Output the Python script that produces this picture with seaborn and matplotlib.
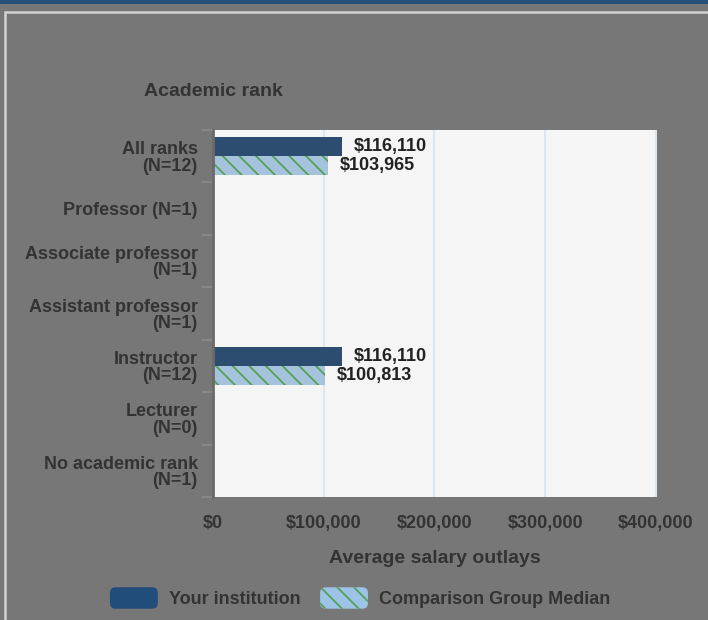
import matplotlib
matplotlib.use("Agg")
import matplotlib.pyplot as plt
import numpy as np
import pandas as pd
import seaborn as sns
from matplotlib.patches import Rectangle, FancyBboxPatch
from matplotlib.legend_handler import HandlerPatch
from matplotlib.lines import Line2D

# --- data ---
RANKS = [
    "All ranks\n(N=12)",
    "Professor (N=1)",
    "Associate professor\n(N=1)",
    "Assistant professor\n(N=1)",
    "Instructor\n(N=12)",
    "Lecturer\n(N=0)",
    "No academic rank\n(N=1)",
]
INSTITUTION = [116110, np.nan, np.nan, np.nan, 116110, np.nan, np.nan]
COMPARISON = [103965, np.nan, np.nan, np.nan, 100813, np.nan, np.nan]
SERIES = ["Your institution", "Comparison Group Median"]
XTICKS = [0, 100000, 200000, 300000, 400000]

DARK = "#214d7a"
LIGHT = "#9dc3e6"
HATCH_GREEN = "#55a055"
BG = "#777777"
TEXT = "#333333"

df = pd.concat([
    pd.DataFrame({"rank": RANKS, "salary": INSTITUTION, "group": SERIES[0]}),
    pd.DataFrame({"rank": RANKS, "salary": COMPARISON, "group": SERIES[1]}),
], ignore_index=True)

sns.set_theme(style="white")
plt.rcParams["font.family"] = ["Liberation Sans", "DejaVu Sans"]
plt.rcParams["hatch.linewidth"] = 1.3

fig = plt.figure(figsize=(7.08, 6.2), dpi=100, facecolor=BG)
ax = fig.add_axes([213 / 708, 1 - 497 / 620, 444 / 708, 367 / 620])
ax.set_facecolor("#f5f5f5")

sns.barplot(data=df, y="rank", x="salary", hue="group", order=RANKS,
            hue_order=SERIES, palette=[DARK, LIGHT], orient="h",
            width=0.73, gap=0, ax=ax, legend=False, linewidth=0, errorbar=None)

for bar in ax.containers[1]:
    bar.set_hatch("\\\\")
    bar.set_edgecolor(HATCH_GREEN)
    bar.set_linewidth(0)

for cont in ax.containers:
    labels = ["" if np.isnan(v) else f"${v:,.0f}" for v in cont.datavalues]
    ax.bar_label(cont, labels=labels, padding=8.5, fontsize=13,
                 fontweight="bold", color="#222222")

ax.set_xlim(0, 401000)
ax.set_xticks(XTICKS)
ax.set_xticklabels([f"${v:,.0f}" for v in XTICKS], fontsize=13,
                   fontweight="bold", color=TEXT)
ax.set_yticks(range(len(RANKS)))
ax.set_yticklabels(RANKS, fontsize=13, fontweight="bold", color=TEXT,
                   ha="right", ma="right", linespacing=0.95)
ax.xaxis.grid(True, color="#dde5ef", linewidth=1.5)
ax.set_axisbelow(True)
ax.set_xlabel("Average salary outlays", fontsize=14, fontweight="bold",
              color=TEXT, labelpad=13)
ax.set_ylabel("")
ax.tick_params(axis="x", length=0, pad=13)
ax.tick_params(axis="y", length=0, pad=11)

# boundary ticks between categories
ax.set_yticks(np.arange(-0.5, len(RANKS), 1.0), minor=True)
ax.tick_params(axis="y", which="minor", left=True, length=8,
               color="#8c8c8c", width=1.2)

for side in ["top", "right", "bottom"]:
    ax.spines[side].set_visible(False)
ax.spines["left"].set_color("#6a6a6a")
ax.spines["left"].set_linewidth(2)

fig.text(213 / 708, 1 - 92 / 620, "Academic rank", ha="center", va="center",
         fontsize=14, fontweight="bold", color=TEXT)

# decorative frame and top strip
fig.add_artist(Rectangle((0, 1 - 4 / 620), 1, 4 / 620, transform=fig.transFigure,
                         facecolor="#25507a", edgecolor="none"))
fig.add_artist(Line2D([5 / 708, 5 / 708], [0, 1 - 12 / 620], transform=fig.transFigure,
                      color="#d2d2d2", linewidth=1.8))
fig.add_artist(Line2D([5 / 708, 1], [1 - 12 / 620, 1 - 12 / 620], transform=fig.transFigure,
                      color="#d2d2d2", linewidth=1.8))


class RoundHandler(HandlerPatch):
    def create_artists(self, legend, orig_handle, xdescent, ydescent,
                       width, height, fontsize, trans):
        p = FancyBboxPatch((-xdescent, -ydescent), width, height,
                           boxstyle="round,pad=0,rounding_size=4",
                           facecolor=orig_handle.get_facecolor(),
                           edgecolor=orig_handle.get_edgecolor(),
                           hatch=orig_handle.get_hatch(), linewidth=0,
                           transform=trans)
        return [p]


h1 = Rectangle((0, 0), 1, 1, facecolor=DARK, edgecolor=DARK)
h2 = Rectangle((0, 0), 1, 1, facecolor=LIGHT, edgecolor=HATCH_GREEN, hatch="\\\\")
leg = fig.legend([h1, h2], SERIES, loc="center", bbox_to_anchor=(360 / 708, 1 - 598 / 620),
                 ncol=2, frameon=False, fontsize=13, handlelength=2.65,
                 handleheight=1.45, handletextpad=0.6, columnspacing=1.1,
                 handler_map={Rectangle: RoundHandler()})
for t in leg.get_texts():
    t.set_color(TEXT)
    t.set_fontweight("bold")

fig.savefig("out.png", dpi=100, facecolor=BG)
